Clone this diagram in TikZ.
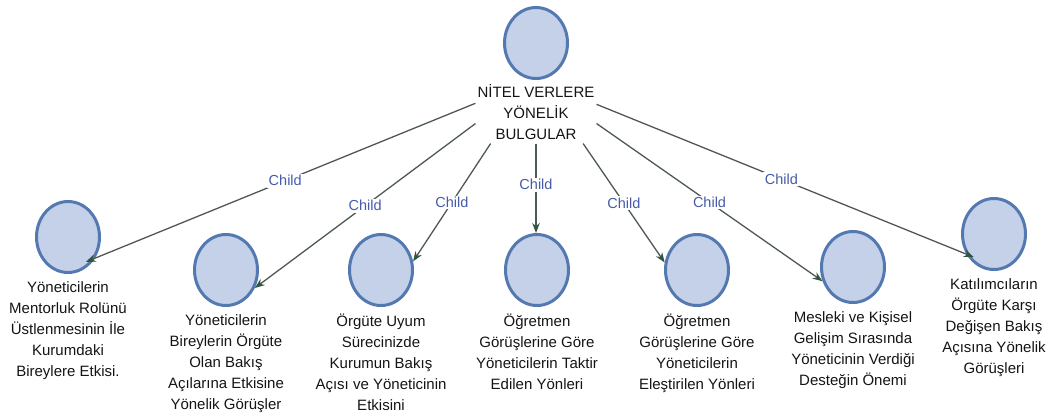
\documentclass[tikz,border=0pt]{standalone}
\usepackage{fontspec}
\setmainfont{Liberation Sans}
\usetikzlibrary{positioning,arrows.meta,shapes.geometric}
\definecolor{bubblefill}{RGB}{196,209,233}
\definecolor{bubbleline}{RGB}{84,120,176}
\definecolor{edgeline}{RGB}{78,88,84}
\definecolor{edgetip}{RGB}{50,84,66}
\definecolor{tagblue}{RGB}{70,92,168}
\providecommand{\NDw}{63pt}
\providecommand{\NDh}{71pt}
\providecommand{\NDfont}{\fontsize{15}{21}\selectfont}
\providecommand{\TAGfont}{\fontsize{14.5}{16}\selectfont}
\providecommand{\Yrow}{270}
\tikzset{
  bubble/.style={ellipse, draw=bubbleline, fill=bubblefill, line width=3pt,
                 minimum width=\NDw, minimum height=\NDh, inner sep=0pt},
  leaf/.style={align=center, font=\NDfont, inner sep=1pt, text=black!92},
  hub/.style={leaf, inner xsep=2pt, inner ysep=4pt},
  tag/.style={fill=white, text=tagblue, font=\TAGfont, inner sep=1.5pt},
  edge/.style={draw=edgeline, line width=1.3pt,
               -{Stealth[length=10pt,width=7.5pt,color=edgetip]}}
}

\begin{document}
\begin{tikzpicture}[x=1pt, y=-1pt]
\useasboundingbox (0,0) rectangle (1052,418);

\node (root) [bubble] at (536,43) {};
\node (rtext) [hub, below=0pt of root] {NİTEL VERLERE\\YÖNELİK\\BULGULAR};

\node (c1) [bubble] at (68,237) {};
\node (c2) [bubble] at (226,\Yrow) {};
\node (c3) [bubble] at (381,\Yrow) {};
\node (c4) [bubble] at (537,\Yrow) {};
\node (c5) [bubble] at (697,\Yrow) {};
\node (c6) [bubble] at (853,267) {};
\node (c7) [bubble] at (994,234) {};

\node (t1) [leaf, below=6pt of c1]
  {Yöneticilerin\\Mentorluk Rolünü\\Üstlenmesinin İle\\Kurumdaki\\Bireylere Etkisi.};
\node (t2) [leaf, below=6pt of c2]
  {Yöneticilerin\\Bireylerin Örgüte\\Olan Bakış\\Açılarına Etkisine\\Yönelik Görüşler};
\node (t3) [leaf, below=6pt of c3]
  {Örgüte Uyum\\Sürecinizde\\Kurumun Bakış\\Açısı ve Yöneticinin\\Etkisini};
\node (t4) [leaf, below=6pt of c4]
  {Öğretmen\\Görüşlerine Göre\\Yöneticilerin Taktir\\Edilen Yönleri};
\node (t5) [leaf, below=6pt of c5]
  {Öğretmen\\Görüşlerine Göre\\Yöneticilerin\\Eleştirilen Yönleri};
\node (t6) [leaf, below=6pt of c6]
  {Mesleki ve Kişisel\\Gelişim Sırasında\\Yöneticinin Verdiği\\Desteğin Önemi};
\node (t7) [leaf, below=6pt of c7]
  {Katılımcıların\\Örgüte Karşı\\Değişen Bakış\\Açısına Yönelik\\Görüşleri};

% Root -> Children
\foreach \cid/\src/\dst/\ext in {1/172/-38/10pt, 2/191/-32/0pt, 3/215/15/0pt,
                                 5/-34/167/0pt, 6/-11/205/0pt, 7/7/216/8pt}{
  \draw[edge, shorten >=-\ext]
    (rtext.\src) -- (c\cid.\dst) node[tag, midway] {Child};
}

\draw[edge]
  (rtext.south) -- (rtext.south |- c4.north) node[tag, pos=0.46] {Child};

\end{tikzpicture}
\end{document}
